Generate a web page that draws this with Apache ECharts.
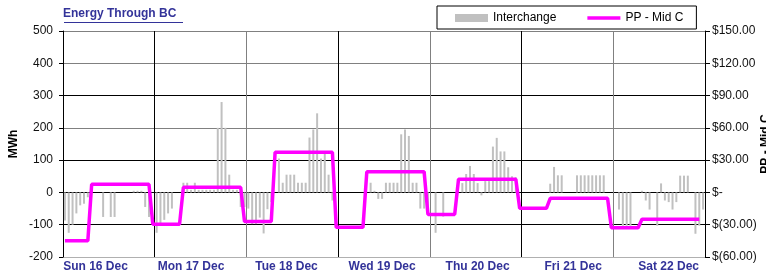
<!DOCTYPE html>
<html>
<head>
    <meta charset="utf-8"/>
    <script src="https://cdn.jsdelivr.net/npm/echarts@6.0.0/dist/echarts.min.js"></script>
</head>
<body style="margin:0;background:#fff">
<div id="main" style="width:766px;height:274px;"></div>
<script type="text/javascript">
    // day labels, hourly categories
    var days = ['Sun 16 Dec', 'Mon 17 Dec', 'Tue 18 Dec', 'Wed 19 Dec', 'Thu 20 Dec', 'Fri 21 Dec', 'Sat 22 Dec'];

    // Interchange (MWh), 24 hours per day
    var interSun = [-87, -125, -100, -65, -40, -35, -15, 0, 0, 0, -76, 0, -76, -76, 0, 0, 0, 0, 5, 5, 5, -45, -76, 0];
    var interMon = [-125, -100, -85, -65, -50, 0, 0, 30, 30, 8, 30, 8, 8, 8, 8, 8, 200, 280, 200, 55, 8, 8, -45, -45];
    var interTue = [-50, -98, -98, -78, -127, -52, -30, 0, 105, 30, 55, 55, 55, 30, 30, 30, 170, 195, 245, 105, 120, 55, -25, 0];
    var interWed = [0, 0, 0, 0, 0, 0, 0, 0, 30, 5, -20, -20, 30, 30, 30, 30, 180, 195, 175, 30, 30, -50, -50, -55];
    var interThu = [0, -125, 0, -75, 0, 0, 0, 0, 29, 57, 82, 57, 29, -9, 35, 35, 142, 169, 127, 127, 78, 50, 47, 0];
    var interFri = [0, 0, 0, 0, 0, 0, 0, 27, 79, 53, 53, 0, 0, 0, 53, 53, 53, 53, 53, 53, 53, 53, 0, 0];
    var interSat = [0, -53, -103, -103, -103, 0, 0, 5, -25, -53, 0, -103, 28, -25, -30, -53, -30, 52, 52, 52, 0, -128, -103, -53];

    // PP - Mid C price ($), 24 hours per day
    var priceSun = [-45, -45, -45, -45, -45, -45, -45, 7.5, 7.5, 7.5, 7.5, 7.5, 7.5, 7.5, 7.5, 7.5, 7.5, 7.5, 7.5, 7.5, 7.5, 7.5, 7.5, -29.5];
    var priceMon = [-29.5, -29.5, -29.5, -29.5, -29.5, -29.5, -29.5, 4.7, 4.7, 4.7, 4.7, 4.7, 4.7, 4.7, 4.7, 4.7, 4.7, 4.7, 4.7, 4.7, 4.7, 4.7, 4.7, -27];
    var priceTue = [-27, -27, -27, -27, -27, -27, -27, 37.3, 37.3, 37.3, 37.3, 37.3, 37.3, 37.3, 37.3, 37.3, 37.3, 37.3, 37.3, 37.3, 37.3, 37.3, 37.3, -32.4];
    var priceWed = [-32.4, -32.4, -32.4, -32.4, -32.4, -32.4, -32.4, 19.2, 19.2, 19.2, 19.2, 19.2, 19.2, 19.2, 19.2, 19.2, 19.2, 19.2, 19.2, 19.2, 19.2, 19.2, 19.2, -20.4];
    var priceThu = [-20.4, -20.4, -20.4, -20.4, -20.4, -20.4, -20.4, 12.2, 12.2, 12.2, 12.2, 12.2, 12.2, 12.2, 12.2, 12.2, 12.2, 12.2, 12.2, 12.2, 12.2, 12.2, 12.2, -14.8];
    var priceFri = [-14.8, -14.8, -14.8, -14.8, -14.8, -14.8, -14.8, -5.5, -5.5, -5.5, -5.5, -5.5, -5.5, -5.5, -5.5, -5.5, -5.5, -5.5, -5.5, -5.5, -5.5, -5.5, -5.5, -32.8];
    var priceSat = [-32.8, -32.8, -32.8, -32.8, -32.8, -32.8, -32.8, -25, -25, -25, -25, -25, -25, -25, -25, -25, -25, -25, -25, -25, -25, -25, -25, null];

    var interchange = [].concat(interSun, interMon, interTue, interWed, interThu, interFri, interSat);
    var price = [].concat(priceSun, priceMon, priceTue, priceWed, priceThu, priceFri, priceSat);

    var hours = [];
    days.forEach(function (d) {
        for (var h = 0; h < 24; h++) hours.push(d);
    });

    var font = 'Liberation Sans, Arial, sans-serif';

    var chart = echarts.init(document.getElementById('main'));
    var option = {
        animation: false,
        textStyle: { fontFamily: font },
        title: {
            text: 'Energy Through BC',
            left: 63,
            top: 8,
            padding: 0,
            textStyle: { fontFamily: font, fontSize: 12, fontWeight: 'bold', color: '#333399' }
        },
        graphic: [{
            type: 'line',
            shape: { x1: 64, y1: 22.5, x2: 183, y2: 22.5 },
            style: { stroke: '#333399', lineWidth: 1 }
        }],
        legend: {
            data: [
                { name: 'Interchange', icon: 'rect' },
                { name: 'PP - Mid C', icon: 'path://M0,0L33,0L33,3.5L0,3.5Z' }
            ],
            left: 437,
            top: 6,
            padding: [6, 13, 5, 18],
            itemWidth: 33,
            itemHeight: 8,
            itemGap: 31,
            borderColor: '#000',
            borderWidth: 1,
            backgroundColor: '#fff',
            textStyle: { fontFamily: font, fontSize: 12, color: '#000' },
            z: 10
        },
        grid: { left: 63, right: 61, top: 31, bottom: 17, outerBoundsMode: 'none' },
        xAxis: [{
            type: 'category',
            data: hours,
            boundaryGap: true,
            axisLine: { show: false },
            axisTick: { show: false },
            splitLine: { show: false },
            axisLabel: {
                interval: function (i) { return i >= 8 && (i - 8) % 25 === 0; },
                margin: 4,
                fontFamily: font,
                fontSize: 12,
                fontWeight: 'bold',
                color: '#333399'
            }
        }, {
            type: 'category',
            data: days,
            position: 'bottom',
            boundaryGap: true,
            axisLine: { show: false },
            axisTick: { show: false },
            axisLabel: { show: false },
            splitLine: {
                show: true,
                interval: 0,
                lineStyle: { color: ['#000', '#000', '#808080', '#000', '#808080', '#000', '#808080', '#000'], width: 1 }
            }
        }],
        yAxis: [{
            type: 'value',
            min: -200,
            max: 500,
            interval: 100,
            name: 'MWh',
            nameLocation: 'middle',
            nameGap: 43,
            nameMoveOverlap: false,
            nameTextStyle: { fontFamily: font, fontSize: 12, fontWeight: 'bold', color: '#000' },
            axisLine: { show: true, lineStyle: { color: '#000', width: 1 } },
            axisTick: { show: true, length: 4, lineStyle: { color: '#000' } },
            axisLabel: { margin: 10, fontFamily: font, fontSize: 12, color: '#111' },
            splitLine: {
                show: true,
                lineStyle: { color: ['#b0b0b0', '#000', '#000', '#000', '#808080', '#000', '#808080', '#808080'], width: 1 }
            }
        }, {
            type: 'value',
            min: -60,
            max: 150,
            interval: 30,
            position: 'right',
            name: 'PP - Mid C',
            nameLocation: 'middle',
            nameRotate: 90,
            nameGap: 55,
            nameMoveOverlap: false,
            nameTextStyle: { fontFamily: font, fontSize: 12, fontWeight: 'bold', color: '#000' },
            axisLine: { show: true, lineStyle: { color: '#000', width: 1 } },
            axisTick: { show: true, length: 5, lineStyle: { color: '#000' } },
            axisLabel: {
                margin: 7,
                fontFamily: font,
                fontSize: 12,
                color: '#111',
                formatter: function (v) {
                    if (v === 0) return '$-';
                    if (v < 0) return '$(' + Math.abs(v).toFixed(2) + ')';
                    return '$' + v.toFixed(2);
                }
            },
            splitLine: { show: false }
        }],
        series: [{
            name: 'Interchange',
            type: 'bar',
            xAxisIndex: 0,
            yAxisIndex: 0,
            data: interchange,
            barWidth: 2,
            itemStyle: { color: '#c0c0c0' }
        }, {
            name: 'PP - Mid C',
            type: 'line',
            xAxisIndex: 0,
            yAxisIndex: 1,
            data: price,
            symbol: 'none',
            lineStyle: { color: '#ff00ff', width: 3.5 },
            itemStyle: { color: '#ff00ff' },
            z: 5
        }]
    };
    chart.setOption(option);
</script>
</body>
</html>
